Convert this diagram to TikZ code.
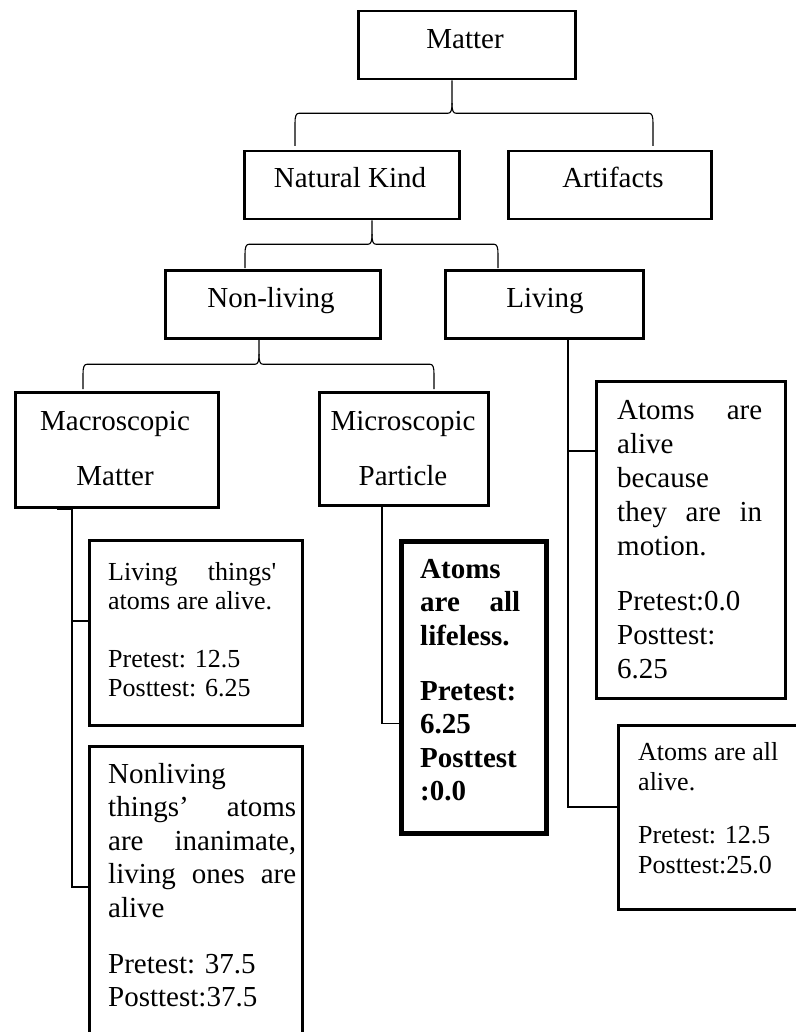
\documentclass[tikz,border=0pt]{standalone}
\usepackage{fontspec}
\setmainfont{Liberation Serif}
\usetikzlibrary{calc}

% one justified line stretched to the full paragraph width
\newcommand\jl[1]{\makebox[\linewidth][s]{#1}}

% downward brace: stem from #1, feet at #2 (left) and #3 (right)
\newcommand\forkbrace[3]{%
  \coordinate (fb-m) at ($(#1)!0.5!(#2)$);
  \draw[fork] (#2) -- ($(#2|-fb-m)+(0,-10)$)
    .. controls ($(#2|-fb-m)+(0,-3)$) and ($(#2|-fb-m)+(1,0)$) .. ($(#2|-fb-m)+(4,0)$)
    -- ($(#1|-fb-m)+(-4,0)$)
    .. controls ($(#1|-fb-m)+(-1,0)$) and ($(#1|-fb-m)+(0,3)$) .. ($(#1|-fb-m)+(0,10)$)
    -- (#1);
  \draw[fork] (#3) -- ($(#3|-fb-m)+(0,-10)$)
    .. controls ($(#3|-fb-m)+(0,-3)$) and ($(#3|-fb-m)+(-1,0)$) .. ($(#3|-fb-m)+(-4,0)$)
    -- ($(#1|-fb-m)+(4,0)$)
    .. controls ($(#1|-fb-m)+(1,0)$) and ($(#1|-fb-m)+(0,3)$) .. ($(#1|-fb-m)+(0,10)$);
}

\tikzset{
  box/.style={draw, line width=2.5pt, inner sep=0pt, anchor=north west},
  heavybox/.style={draw, line width=5pt, inner sep=0pt, anchor=north west},
  head/.style={inner sep=0pt, anchor=base, font=\fontsize{29}{33}\selectfont},
  body/.style={inner sep=0pt, anchor=base west},
  conn/.style={line width=1.1pt},
  fork/.style={line width=1.1pt},
}

\begin{document}
\begin{tikzpicture}[x=1pt,y=1pt]
\path[fill=white,use as bounding box] (0,0) rectangle (795,-1032);

% category boxes
\node[box, minimum width=217pt, minimum height=68pt]  (matter) at (357,-10)  {};
\node[box, minimum width=215pt, minimum height=68pt]  (nk)     at (243,-150) {};
\node[box, minimum width=203pt, minimum height=68pt]  (art)    at (507,-150) {};
\node[box, minimum width=215pt, minimum height=68pt]  (nonl)   at (164,-269) {};
\node[box, minimum width=198pt, minimum height=68pt]  (liv)    at (444,-269) {};
\node[box, minimum width=203pt, minimum height=115pt] (mac)    at (14,-391)  {};
\node[box, minimum width=169pt, minimum height=113pt] (mic)    at (318,-391) {};

% conception boxes
\node[box, minimum width=213pt, minimum height=185pt] (lt)   at (88,-539)  {};
\node[box, minimum width=213pt, minimum height=300pt] (nl)   at (88,-745)  {};
\node[heavybox, minimum width=145pt, minimum height=292pt] (bold) at (398.5,-538.5) {};
\node[box, minimum width=189pt, minimum height=317pt] (mot)  at (595,-380)  {};
\node[box, minimum width=190pt, minimum height=184pt] (all)  at (617,-724)  {};

% labels of the category boxes
\node[head] (matter-t) at (465,-49)  {Matter};
\node[head] (nk-t)     at (350,-188) {Natural Kind};
\node[head] (art-t)    at (613,-188) {Artifacts};
\node[head] (nonl-t)   at (271,-307) {Non-living};
\node[head] (liv-t)    at (545,-307) {Living};
\node[head] (mac-t1)   at (115,-430) {Macroscopic};
\node[head] (mac-t2)   at (115,-485) {Matter};
\node[head] (mic-t1)   at (403,-430) {Microscopic};
\node[head] (mic-t2)   at (403,-485) {Particle};

% texts of the conception boxes
\node[body, font=\fontsize{26}{29}\selectfont] (lt-t) at (108,-580)
  {\parbox[t]{168pt}{\jl{Living things\textquotesingle}\\
   atoms are alive.\\[29pt]
   Pretest: 12.5\\
   Posttest: 6.25}};

\node[body, font=\fontsize{29}{33.5}\selectfont] (nl-t) at (108,-783)
  {\parbox[t]{188pt}{Nonliving\\
   \jl{things’ atoms}\\
   \jl{are inanimate,}\\
   \jl{living ones are}\\
   alive\\[22.5pt]
   Pretest: 37.5\\
   Posttest:37.5}};

\node[body, font=\fontsize{29}{33.5}\selectfont\bfseries] (bold-t) at (420,-578)
  {\parbox[t]{100pt}{Atoms\\
   \jl{are all}\\
   lifeless.\\[21.5pt]
   Pretest:\\
   6.25\\
   Posttest\\
   :0.0}};

\node[body, font=\fontsize{29}{34}\selectfont] (mot-t) at (617,-419)
  {\parbox[t]{145pt}{\jl{Atoms are}\\
   alive\\
   because\\
   \jl{they are in}\\
   motion.\\[21pt]
   Pretest:0.0\\
   Posttest:\\
   6.25}};

\node[body, font=\fontsize{26}{30}\selectfont] (all-t) at (638,-760)
  {\parbox[t]{150pt}{Atoms are all\\
   alive.\\[23pt]
   Pretest: 12.5\\
   Posttest:25.0}};

% braces between the levels
\coordinate (s1) at ($(matter.south west)+(95,0)$);
\coordinate (l1) at ($(nk.north west)+(52,4)$);
\coordinate (r1) at ($(art.north west)+(146,4)$);
\forkbrace{s1}{l1}{r1}

\coordinate (s2) at ($(nk.south west)+(129,0)$);
\coordinate (l2) at ($(nonl.north west)+(81,1)$);
\coordinate (r2) at ($(liv.north west)+(54,1)$);
\forkbrace{s2}{l2}{r2}

\coordinate (s3) at ($(nonl.south west)+(95,0)$);
\coordinate (l3) at ($(mac.north west)+(69,2)$);
\coordinate (r3) at ($(mic.north west)+(116,2)$);
\forkbrace{s3}{l3}{r3}

% elbow connectors to the conception boxes
\draw[conn] ($(mac.south west)+(43,-1)$) -- ($(mac.south west)+(58,-1)$)
  |- ($(nl.north west)+(0,-142)$);
\draw[conn] ($(lt.north west)+(-16,-82)$) -- ($(lt.north west)+(0,-82)$);

\draw[conn] ($(mic.south west)+(64,0)$) |- ($(bold.north west)+(0,-185)$);

\draw[conn] ($(liv.south west)+(124,0)$) |- ($(all.north west)+(0,-83)$);
\draw[conn] ($(mot.north west)+(-27,-71)$) -- ($(mot.north west)+(0,-71)$);
\end{tikzpicture}
\end{document}
